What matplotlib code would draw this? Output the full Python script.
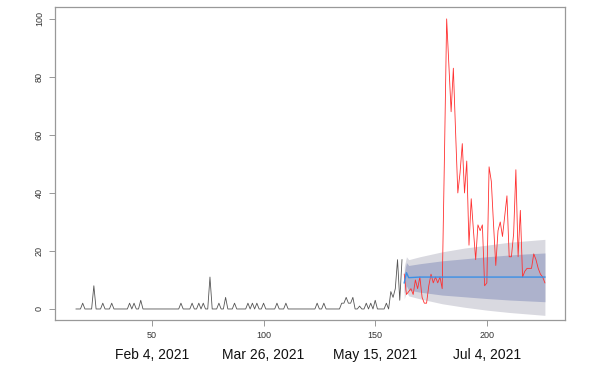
import matplotlib
matplotlib.use("Agg")
import matplotlib.pyplot as plt
import numpy as np

plt.rcParams['font.family'] = ['Liberation Sans', 'DejaVu Sans']

# Observed (training) series, days 16..162
hist_start = 16
hist_vals = [
    0, 0, 0, 2, 0, 0, 0, 0, 8, 0,      # 16-25
    0, 0, 2, 0, 0, 0, 2, 0, 0, 0,      # 26-35
    0, 0, 0, 0, 2, 0, 2, 0, 0, 3,      # 36-45
    0, 0, 0, 0, 0, 0, 0, 0, 0, 0,      # 46-55
    0, 0, 0, 0, 0, 0, 0, 2, 0, 0,      # 56-65
    0, 0, 2, 0, 0, 2, 0, 2, 0, 0,      # 66-75
    11, 0, 0, 0, 2, 0, 0, 4, 0, 0,     # 76-85
    0, 2, 0, 0, 0, 0, 0, 2, 0, 2,      # 86-95
    0, 2, 0, 0, 2, 0, 0, 0, 0, 0,      # 96-105
    2, 0, 0, 0, 2, 0, 0, 0, 0, 0,      # 106-115
    0, 0, 0, 0, 0, 0, 0, 0, 2, 0,      # 116-125
    0, 2, 0, 0, 0, 0, 0, 0, 0, 2,      # 126-135
    2, 4, 2, 2, 4, 0, 0, 1, 0, 0,      # 136-145
    2, 0, 2, 0, 3, 0, 0, 0, 0, 2,      # 146-155
    0, 6, 4, 7, 17, 3, 17,             # 156-162
]

# Actual test series, days 163..226
test_start = 163
test_vals = [
    12, 5, 6, 7, 5, 10, 7, 11, 4, 2,           # 163-172
    2, 8, 12, 9, 11, 9, 11, 7, 52, 100,        # 173-182
    84, 68, 83, 61, 40, 47, 57, 40, 51, 22,    # 183-192
    38, 27, 17, 29, 27, 29, 8, 9, 49, 44,      # 193-202
    29, 15, 27, 30, 25, 32, 39, 18, 18, 26,    # 203-212
    48, 18, 34, 11, 13, 14, 14, 14, 19, 17,    # 213-222
    14, 12, 11, 9,                             # 223-226
]

# Forecast and prediction intervals (read at selected days)
fc_days = [163, 164, 165, 170, 180, 190, 200, 210, 218, 226]
fc_mean = [9.0, 12.5, 10.8, 11.0, 11.0, 11.0, 11.0, 11.0, 11.0, 11.0]
fc_lo80 = [5.5, 8.0, 6.5, 5.8, 4.8, 4.2, 3.6, 3.1, 2.8, 2.5]
fc_hi80 = [12.5, 16.0, 15.0, 15.6, 16.6, 17.3, 18.0, 18.6, 19.0, 19.3]
fc_lo95 = [3.5, 6.0, 4.5, 3.5, 1.8, 0.6, -0.4, -1.2, -1.7, -2.2]
fc_hi95 = [14.5, 18.0, 17.0, 18.0, 19.7, 21.0, 22.0, 23.0, 23.5, 24.0]

x_ticks = [50, 100, 150, 200]
y_ticks = [0, 20, 40, 60, 80, 100]
date_labels = ["Feb 4, 2021", "Mar 26, 2021", "May 15, 2021", "Jul 4, 2021"]

fig = plt.figure(figsize=(6.14, 3.68), dpi=100)
ax = fig.add_axes([55/614, 48/368, 510/614, 313/368])

hx = np.arange(hist_start, hist_start + len(hist_vals))
tx = np.arange(test_start, test_start + len(test_vals))

ax.fill_between(fc_days, fc_lo95, fc_hi95, color='#d9d9e0', lw=0)
ax.fill_between(fc_days, fc_lo80, fc_hi80, color='#adb2cc', lw=0)
ax.plot(hx, hist_vals, color='#555555', lw=0.6)
ax.plot(tx, test_vals, color='#ff3030', lw=0.6)
ax.plot(fc_days, fc_mean, color='#3b8fe6', lw=1.0)

ax.set_xlim(6.6, 235.0)
ax.set_ylim(-3.8, 104.1)

ax.set_xticks(x_ticks)
ax.set_yticks(y_ticks)
ax.set_xticklabels([str(v) for v in x_ticks], fontsize=6.5, color='#333333')
ax.set_yticklabels([str(v) for v in y_ticks], fontsize=6.5, color='#333333',
                   rotation=90, va='center')
ax.tick_params(axis='both', length=4, width=0.6, color='#888888', pad=4)
for s in ax.spines.values():
    s.set_color('#999999')
    s.set_linewidth(0.9)

for xv, lab in zip(x_ticks, date_labels):
    ax.text(xv, -0.112, lab, transform=ax.get_xaxis_transform(),
            ha='center', va='center', fontsize=10, color='#111111')

fig.savefig('out.png', dpi=100)
